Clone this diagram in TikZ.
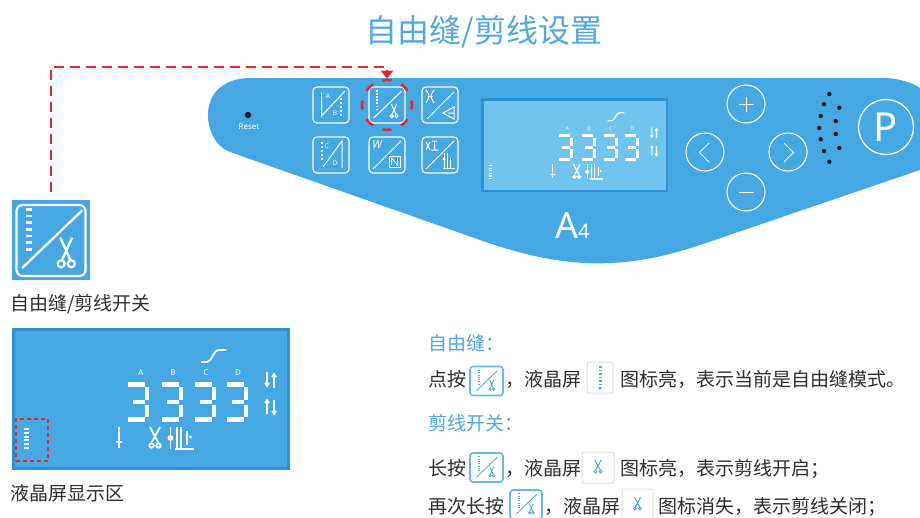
\documentclass[tikz,border=0pt]{standalone}
\usepackage{fontspec}
\setmainfont{Noto Sans}
\newfontfamily\cjkfont{Noto Sans CJK SC}
\usetikzlibrary{arrows.meta}

\definecolor{panelblue}{RGB}{70,168,226}
\definecolor{lcdlight}{RGB}{114,196,240}
\definecolor{lcdedge}{RGB}{46,144,208}
\definecolor{titleblue}{RGB}{78,168,226}
\definecolor{markred}{RGB}{232,38,44}
\definecolor{bodytext}{RGB}{46,46,46}
\definecolor{chipedge}{RGB}{104,184,234}
\definecolor{chipgray}{RGB}{222,226,230}
\definecolor{grille}{RGB}{26,26,30}

\newcommand\lcdscale{1}

\tikzset{
  keybox/.style={draw=white, line width=1.1pt, rounded corners=4pt,
    minimum width=36pt, minimum height=36pt, inner sep=0pt},
  roundkey/.style={circle, draw=white, line width=1.1pt, minimum size=38pt, inner sep=0pt},
  glyph/.style={draw=white, line width=1pt},
  keytxt/.style={text=white, inner sep=0pt, font=\fontsize{6.5}{6.5}\selectfont},
  seg/.style={draw=white, line width=\lcdscale*4.6pt},
  lcdline/.style={draw=white, line width=\lcdscale*1.8pt},
  lcdtxt/.style={text=white, inner sep=0pt, font=\fontsize{8}{8}\selectfont\bfseries},
  bodytxt/.style={anchor=base west, inner sep=0pt, text=bodytext,
    font=\cjkfont\fontsize{19}{19}\selectfont},
  headtxt/.style={bodytxt, text=titleblue},
  chip/.style={draw=chipedge, line width=1.6pt, fill=white, rounded corners=3pt, inner sep=0pt},
  plainchip/.style={draw=chipgray, line width=1pt, fill=white, rounded corners=2pt, inner sep=0pt},
  linkdash/.style={draw=markred, line width=2.6pt, dash pattern=on 10pt off 6pt},
}

% free-sew / thread-trim glyph: centre x, centre y, box size, colour
\newcommand\sewglyph[4]{%
  \begin{scope}[shift={(#1,#2)}, x=#3pt, y=-#3pt, #4]
    \draw[line width={#3*0.03pt}] (-0.37,0.36) -- (0.40,-0.38);
    \foreach \k in {0,...,6}{\fill (-0.315,{-0.41+\k*0.085}) rectangle ++(0.075,0.035);}
    \draw[line width={#3*0.03pt}] (0.12,-0.03) -- (0.25,0.26) (0.27,-0.03) -- (0.14,0.26);
    \draw[line width={#3*0.028pt}] (0.13,0.305) circle[radius=0.045] (0.26,0.305) circle[radius=0.045];
  \end{scope}}

% small scissors mark: centre x, centre y, colour
\newcommand\snipglyph[3]{%
  \draw[#3, line width=1pt] (#1-3.2,#2-6) -- (#1+2.2,#2+4) (#1+3.2,#2-6) -- (#1-2.2,#2+4);
  \draw[#3, line width=0.9pt] (#1-2.5,#2+5.6) circle[radius=1.4] (#1+2.5,#2+5.6) circle[radius=1.4];}

% segments and symbols of the LCD, local frame 278 x 142
\newcommand\lcdmarks{%
  \foreach \dx in {116,150,183,215}{%
    \draw[seg] (\dx,56.3) -- (\dx+16.5,56.3);
    \draw[seg] (\dx+19,59) -- (\dx+19,71.5);
    \draw[seg] (\dx+5,74) -- (\dx+16.5,74);
    \draw[seg] (\dx+19,76.5) -- (\dx+19,89);
    \draw[seg] (\dx,91.7) -- (\dx+16.5,91.7);
  }
  \foreach \lx/\lt in {129/A,161/B,194/C,226/D}{\node[lcdtxt] at (\lx,45) {\lt};}
  \draw[lcdline] (189,34) -- (195,34) .. controls (200,34) and (201,22) .. (207,22) -- (214,22);
  % direction marks at the right
  \draw[lcdline] (255,44) -- (255,58) (253,55) -- (255,58) -- (257,55);
  \draw[lcdline] (262,46) -- (262,60) (260,49) -- (262,46) -- (264,49);
  \draw[lcdline] (255,72) -- (255,86) (253,75) -- (255,72) -- (257,75);
  \draw[lcdline] (262,72) -- (262,86) (260,83) -- (262,86) -- (264,83);
  % bottom row
  \draw[lcdline] (107,99) -- (107,120) (104,114) -- (110,114);
  \draw[lcdline] (138,99) -- (146,114) (148,99) -- (140,114);
  \draw[lcdline] (139.5,117.5) circle[radius=2.2] (146.5,117.5) circle[radius=2.2];
  \draw[lcdline] (158.5,99) -- (158.5,121);
  \fill[white] (158.5,110) circle[radius=3];
  \draw[lcdline] (165,99) -- (165,121) (169,99) -- (169,121) (175,103) -- (175,117)
    (163,121) -- (182,121);
  \fill[white] (178.5,109) circle[radius=1.6];
  % free-sew ladder
  \foreach \k in {0,...,5}{\fill[white] (12,{100+\k*3.8}) rectangle ++(5,2);}
}

\begin{document}
\begin{tikzpicture}[x=1pt, y=-1pt]
\useasboundingbox (0,0) rectangle (920,517);
\clip (0,0) rectangle (920,517);

% title
\node[anchor=base, inner sep=0pt, text=titleblue,
  font=\cjkfont\fontsize{32}{32}\selectfont] (title) at (484,42) {自由缝/剪线设置};

% control panel body
\fill[panelblue] (250,78) -- (882,78)
  .. controls (950,78) and (962,150) .. (920,170)
  -- (700,245) .. controls (620,272) and (560,268.2) .. (480,240)
  -- (230,152) .. controls (216,147) and (208,131) .. (208,115)
  .. controls (208,92) and (225,78) .. (250,78) -- cycle;

% reset hole
\fill[grille] (248,115) circle[radius=3.2];
\node[text=white, inner sep=0pt, font=\fontsize{8}{8}\selectfont\bfseries] (reset) at (249,126.5) {Reset};

% six function keys
\node[keybox] (k1) at (331,105) {};
\node[keybox] (k2) at (387,105) {};
\node[keybox] (k3) at (440,105) {};
\node[keybox] (k4) at (331,155) {};
\node[keybox] (k5) at (387,155) {};
\node[keybox] (k6) at (440,155) {};

\begin{scope}[shift={(k1.center)}]
  \draw[glyph] (-9.5,-12) -- (-9.5,11) -- (14,-14);
  \node[keytxt] (k1a) at (-3,-8.5) {A};
  \node[keytxt] (k1b) at (4,8) {B};
  \foreach \k in {0,...,4}{\fill[white] (9,{-7+\k*4}) rectangle ++(2,1.6);}
\end{scope}

\sewglyph{387}{105}{36}{white}

\begin{scope}[shift={(k3.center)}]
  \draw[glyph] (-13,14) -- (14,-13);
  \draw[glyph] (-14,-15) .. controls (-10,-9) .. (-14,-2)
    (-6,-15) .. controls (-10,-9) .. (-6,-2) (-12.5,-8.5) -- (-7.5,-8.5);
  \draw[glyph] (3,8) -- (14,2) -- (14,14) -- cycle (8,8) -- (14,8);
\end{scope}

\begin{scope}[shift={(k4.center)}]
  \foreach \k in {0,...,4}{\fill[white] (-10.5,{-13+\k*4}) rectangle ++(2,1.6);}
  \node[keytxt] (k4c) at (-4,-9) {C};
  \draw[glyph] (-8,12) -- (11,-14) -- (11,13);
  \node[keytxt] (k4d) at (4,8) {D};
\end{scope}

\begin{scope}[shift={(k5.center)}]
  \node[text=white, inner sep=0pt, font=\fontsize{11}{11}\selectfont\itshape] (k5w) at (-10,-10) {W};
  \draw[glyph] (-14,14) -- (14,-14);
  \draw[glyph] (2,1) rectangle (13,12);
  \draw[white, line width=0.9pt] (4.5,10) -- (4.5,3) -- (10.5,10) -- (10.5,3);
\end{scope}

\begin{scope}[shift={(k6.center)}]
  \draw[glyph] (-14,14) -- (14,-14);
  \draw[glyph] (-14,-13) -- (-10,-5) (-10,-13) -- (-14,-5)
    (-8,-14) -- (-3,-14) (-5.5,-14) -- (-5.5,-5) (-9,-5) -- (-2,-5);
  \draw[glyph] (4,-2) -- (4,13) (7,-2) -- (7,13) (10,3) -- (10,13) (3,13) -- (15,13);
  \fill[white] (4,4) circle[radius=1.6];
\end{scope}

% panel display
\node[draw=lcdedge, line width=2.5pt, fill=lcdlight, minimum width=184.5pt,
  minimum height=91.5pt, inner sep=0pt] (lcdsmall) at (574.5,145) {};
\renewcommand\lcdscale{0.67}
\begin{scope}[shift={(481,98)}, scale=0.67, transform shape]
  \lcdmarks
\end{scope}

% model mark
\node[anchor=base west, inner sep=0pt, text=white] (model) at (555,238)
  {\fontsize{36}{36}\selectfont A\fontsize{20}{20}\selectfont 4};

% arrow and value keys
\node[roundkey] (plus) at (746,104) {};
\node[roundkey] (minus) at (746,192) {};
\node[roundkey] (left) at (705,152) {};
\node[roundkey] (right) at (788,152) {};
\draw[glyph] (738.5,104) -- (753.5,104) (746,96.5) -- (746,111.5);
\draw[glyph] (738.5,192) -- (753.5,192);
\draw[glyph] (709,143) -- (699.5,152.5) -- (709,162);
\draw[glyph] (784,143) -- (793.5,152.5) -- (784,162);

% speaker grille
\foreach \gx/\gy in {829.3/94,824/104.3,839.3/107.7,820.7/116,835.7/121,819.3/128,
  835.7/134,820.7/139.3,839.3/148,824/151,829.3/161.7}{\fill[grille] (\gx,\gy) circle[radius=2.2];}

% program key
\node[circle, draw=white, line width=1.3pt, minimum size=55pt, inner sep=0pt,
  text=white, font=\fontsize{40}{40}\selectfont] (pkey) at (886,127) {P};

% highlight of the free-sew / trim key
\node[circle, draw=markred, line width=2.6pt, dash pattern=on 9pt off 10.6pt,
  dash phase=4.5pt, minimum size=50pt, inner sep=0pt] (focus) at (387,105) {};

% enlarged free-sew / trim key
\node[fill=panelblue, minimum width=78pt, minimum height=80pt, inner sep=0pt] (bigkey) at (51,240) {};
\draw[white, line width=2.2pt, rounded corners=6pt] (16.5,205) rectangle (85.5,276);
\sewglyph{51}{240}{78}{white}
\node[bodytxt] (keylabel) at (10,310) {自由缝/剪线开关};

% link from the enlarged key to the panel key
\coordinate (bend) at (51,67);
\coordinate (bendb) at (387,67);
\draw[linkdash, shorten <=8pt, -{Triangle[width=12pt,length=8pt]}]
  (bigkey.north) -- (bend) -- (bendb) -- (focus.north);

% enlarged display
\node[draw=lcdedge, line width=3pt, fill=panelblue, minimum width=275pt,
  minimum height=139pt, inner sep=0pt] (lcdbig) at (151,399) {};
\renewcommand\lcdscale{1}
\begin{scope}[shift={(12,328)}, scale=1, transform shape]
  \lcdmarks
\end{scope}
\node[draw=markred, line width=1.6pt, dash pattern=on 4pt off 3pt,
  minimum width=32pt, minimum height=42pt, inner sep=0pt] (freemark) at (32,440) {};
\node[bodytxt] (lcdlabel) at (10,500) {液晶屏显示区};

% explanation
\node[headtxt] (h1) at (428,350) {自由缝：};
\node[bodytxt] (t1a) at (428,386) {点按};
\node[chip, minimum width=33pt, minimum height=29pt] (c1) at (486.5,381) {};
\sewglyph{486.5}{381}{27}{titleblue}
\node[bodytxt] (t1b) at (505,386) {，液晶屏};
\node[plainchip, minimum width=26pt, minimum height=31pt] (c2) at (600,377.5) {};
\foreach \k in {0,...,5}{\fill[titleblue] (598.5,{366+\k*3.5}) rectangle ++(3,1.8);}
\fill[titleblue] (598,387) -- (602,387) -- (600,390) -- cycle;
\node[bodytxt] (t1c) at (620,386) {图标亮，表示当前是自由缝模式。};

\node[headtxt] (h2) at (428,430) {剪线开关：};
\node[bodytxt] (t2a) at (428,475) {长按};
\node[chip, minimum width=33pt, minimum height=29pt] (c3) at (486.5,467.5) {};
\sewglyph{486.5}{467.5}{27}{titleblue}
\node[bodytxt] (t2b) at (505,475) {，液晶屏};
\node[plainchip, minimum width=32pt, minimum height=31pt] (c4) at (598,467.5) {};
\snipglyph{598}{466}{titleblue}
\node[bodytxt] (t2c) at (620,475) {图标亮，表示剪线开启；};

\node[bodytxt] (t3a) at (428,513) {再次长按};
\node[chip, minimum width=32pt, minimum height=29pt] (c5) at (526,504.5) {};
\sewglyph{526}{504.5}{27}{titleblue}
\node[bodytxt] (t3b) at (544,513) {，液晶屏};
\node[plainchip, minimum width=31pt, minimum height=31pt] (c6) at (637.5,504.5) {};
\snipglyph{637.5}{503}{titleblue}
\node[bodytxt] (t3c) at (658,513) {图标消失，表示剪线关闭；};
\end{tikzpicture}
\end{document}
